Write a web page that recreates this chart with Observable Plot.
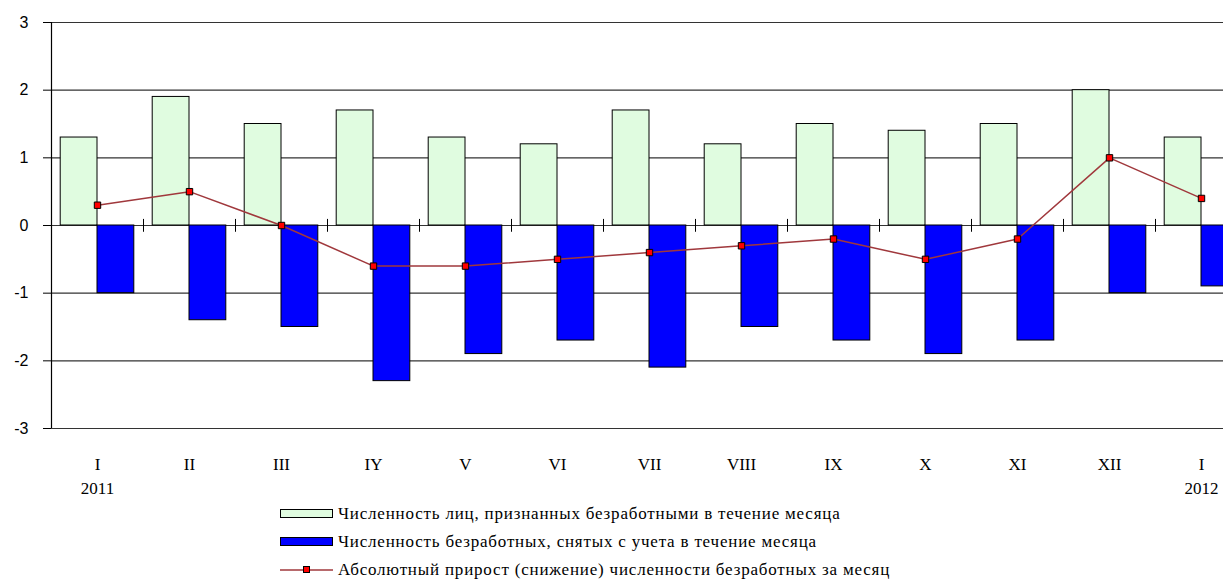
<!DOCTYPE html>
<html><head><meta charset="utf-8">
<script src="https://cdn.jsdelivr.net/npm/d3@7"></script>
<script src="https://cdn.jsdelivr.net/npm/@observablehq/plot@0.6"></script>
<style>
html,body{margin:0;padding:0;background:#fff;overflow:hidden;width:1223px;height:582px}
#chart svg{overflow:hidden;display:block;background:#fff}
.legend{font-family:"Liberation Serif","Times New Roman",serif;font-size:17px;letter-spacing:0.8px;color:#000;padding-left:280px}
.legend .row{height:28px;display:flex;align-items:center}
.legend svg{display:block;margin-right:5px}
</style></head><body>
<div id="chart"></div>
<div class="legend" id="legend"></div>
<script>
const months = ["I","II","III","IY","V","VI","VII","VIII","IX","X","XI","XII","I"];
const years = ["2011","","","","","","","","","","","","2012"];
const registered = [1.3,1.9,1.5,1.7,1.3,1.2,1.7,1.2,1.5,1.4,1.5,2.0,1.3];
const removed = [-1.0,-1.4,-1.5,-2.3,-1.9,-1.7,-2.1,-1.5,-1.7,-1.9,-1.7,-1.0,-0.9];
const change = [0.3,0.5,0.0,-0.6,-0.6,-0.5,-0.4,-0.3,-0.2,-0.5,-0.2,1.0,0.4];
const yTicks = [-3,-2,-1,0,1,2,3];
const seriesNames = [
  "Численность лиц, признанных безработными в течение месяца",
  "Численность безработных, снятых с учета в течение месяца",
  "Абсолютный прирост (снижение) численности безработных за месяц"
];
const greenFill = "#e0fce0", blueFill = "#0000ff", lineColor = "#a0383c", dotFill = "#ff0000";

const data = months.map((m, i) => ({i, m, year: years[i], reg: registered[i], rem: removed[i], chg: change[i]}));
const idx = d3.range(months.length);

const plot = Plot.plot({
  width: 1223, height: 500,
  marginLeft: 51, marginRight: 0, marginTop: 22, marginBottom: 72,
  style: {background: "#fff", color: "#000"},
  x: {type: "linear", domain: [-0.5, 12.5], range: [51, 1247]},
  y: {domain: [-3, 3]},
  marks: [
    Plot.ruleY(yTicks, {stroke: "#333", strokeWidth: 1.2}),
    Plot.rect(data, {x1: d => d.i - 0.4, x2: d => d.i, y1: 0, y2: "reg", fill: greenFill, stroke: "#000", strokeWidth: 1}),
    Plot.rect(data, {x1: d => d.i, x2: d => d.i + 0.4, y1: 0, y2: "rem", fill: blueFill, stroke: "#000", strokeWidth: 1}),
    Plot.ruleX(idx.slice(0, 12).map(i => i + 0.5), {y1: -0.1, y2: 0.09, stroke: "#000", strokeWidth: 1}),
    Plot.line(data, {x: "i", y: "chg", stroke: lineColor, strokeWidth: 1.5}),
    Plot.dot(data, {x: "i", y: "chg", symbol: "square", r: 3.6, fill: dotFill, stroke: "#000", strokeWidth: 1}),
    Plot.ruleX([-0.5], {y1: -3, y2: 3, stroke: "#000", strokeWidth: 1.2}),
    Plot.axisY({ticks: yTicks, tickFormat: d => String(d), tickSize: 8, tickPadding: 15, fontSize: 16, fontFamily: "Liberation Sans, Arial, sans-serif", label: null}),
    Plot.axisX({ticks: idx, tickFormat: i => months[i], tickSize: 0, tickPadding: 29, fontSize: 17, fontFamily: "Liberation Serif, Times New Roman, serif", label: null}),
    Plot.axisX({ticks: [0, 12], tickFormat: i => years[i], tickSize: 0, tickPadding: 53, fontSize: 17, fontFamily: "Liberation Serif, Times New Roman, serif", label: null, style: {letterSpacing: "1px"}})
  ]
});
document.getElementById("chart").appendChild(plot);

const legend = document.getElementById("legend");
const swatches = [
  `<svg width="53" height="10"><rect x="0.5" y="0.5" width="52" height="8" fill="${greenFill}" stroke="#000"/></svg>`,
  `<svg width="53" height="10"><rect x="0.5" y="0.5" width="52" height="8" fill="${blueFill}" stroke="#000"/></svg>`,
  `<svg width="53" height="10"><line x1="0" y1="5" x2="53" y2="5" stroke="${lineColor}" stroke-width="1.5"/><rect x="23.5" y="1.5" width="6" height="6" fill="${dotFill}" stroke="#000"/></svg>`
];
seriesNames.forEach((name, k) => {
  const row = document.createElement("div");
  row.className = "row";
  row.innerHTML = swatches[k] + `<span>${name}</span>`;
  legend.appendChild(row);
});
</script>
</body></html>
